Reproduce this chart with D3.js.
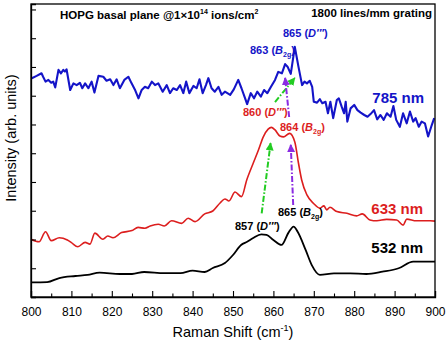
<!DOCTYPE html>
<html><head><meta charset="utf-8">
<script src="https://cdn.jsdelivr.net/npm/d3@7"></script>
<style>
html,body{margin:0;padding:0;background:#fff;}
svg{display:block;font-family:"Liberation Sans",Arial,sans-serif;}
</style></head>
<body><svg id="chart" width="447" height="343"></svg>
<script>
// Raman shift (cm^-1) / intensity (arb. units)
const shift532 = [800,804,807,811,814,817,822,825,828,833,837,840,843,845,848,850,852,853.5,855,857,858.3,860,862,863.7,865,866,868,869.5,871.5,875,879,883,887,891,894.6,900];
const int532   = [0.51,0.52,0.66,0.73,0.77,0.85,0.80,0.80,0.87,0.83,0.83,0.92,0.87,1.01,1.18,1.46,1.81,1.92,2.05,2.18,2.16,1.98,1.81,2.23,2.45,2.27,1.63,1.11,0.77,0.82,0.82,0.80,0.88,1.00,1.23,1.23];

const shift633 = [800,802,803.6,805,807,809,810,811.6,813.4,814.6,815.8,817.8,819,820.3,822.4,825,826.5,828.2,829.5,831.5,833,834.8,837.3,838.9,840.6,843,845,846.8,848,849,850.5,852.1,853.4,855,856.3,857.5,858.7,859.5,860.4,861.6,862.5,864,865.3,866.2,867,868.3,869.9,871.5,872.5,873.2,874,875.7,878.2,880.6,882,883.9,885.6,888,890.5,892.1,893,895.4,898.8,900];
const int633   = [2.01,1.92,2.27,1.96,2.06,1.98,1.89,1.75,1.90,1.84,2.22,2.01,2.12,2.06,2.24,2.31,2.42,2.39,2.47,2.53,2.47,2.65,2.56,2.74,2.62,2.89,2.99,3.27,3.41,3.34,3.65,3.49,4.07,4.65,5.11,5.57,5.84,5.90,5.81,5.60,5.57,5.69,5.39,4.66,4.07,3.55,3.26,3.09,3.17,3.03,3.12,2.97,2.91,2.82,2.89,2.68,2.65,2.70,2.68,2.50,2.71,2.65,2.65,2.64];

const shift785 = [800.2,801.4,802.6,803,803.6,804.3,805,805.5,806,806.8,807.4,808,808.4,808.8,809.7,810.5,811.3,812.1,812.7,813.4,814.2,815,815.7,816.7,817.9,818.7,819.6,820.4,821.2,822,823.1,824.1,824.9,825.7,826.6,827.4,828.2,829,829.9,830.7,831.5,832.6,833.6,834.4,835.2,836.1,836.9,837.7,838.4,839.2,840.2,841,841.7,842.5,843.3,843.9,844.7,845.5,846.4,847.2,848,849.3,850.2,851.3,852.1,853,853.5,854.4,855.2,856,856.9,857.7,858.5,859.4,860.4,861.2,862.1,862.9,863.5,864.3,865.3,866.2,867.1,867.7,868.3,869,869.6,870,870.8,871.5,872.1,872.9,873.5,874.1,874.8,875.7,876.2,876.9,877.5,877.9,878.3,879.1,880,880.8,881.6,882.5,883.3,884.1,884.9,885.7,886.5,887.3,888.1,889,889.7,890.4,891.3,892.1,893,893.8,894.6,895.2,896,896.7,897.5,898.3,899.2,899.8];
const int785   = [7.61,7.69,7.78,7.66,7.49,7.55,7.45,7.49,7.29,7.90,7.78,7.90,7.84,7.92,7.20,7.43,7.37,7.45,7.26,7.43,7.26,7.49,7.11,7.69,7.66,7.52,7.57,7.37,7.57,7.26,7.55,7.66,7.43,7.22,6.91,7.20,7.31,7.26,7.49,7.37,7.43,7.14,7.37,7.09,7.26,7.20,7.37,7.09,7.49,7.09,7.34,7.26,7.57,7.09,7.37,7.61,7.26,7.14,7.31,7.03,7.14,7.03,7.22,7.55,7.26,6.91,6.71,7.09,6.91,7.14,6.97,7.20,7.09,7.31,7.55,7.83,7.78,8.10,8.01,7.76,8.70,8.01,7.37,7.49,7.43,7.52,7.31,6.79,6.76,6.88,6.74,6.79,6.39,6.79,6.22,6.85,6.91,6.62,6.39,6.79,6.10,6.56,6.68,6.50,6.41,6.33,6.27,6.37,6.50,6.18,6.33,6.16,6.39,6.27,6.64,6.16,5.92,6.39,6.04,6.45,6.10,6.22,5.92,6.10,6.04,5.58,5.98,6.22];

const xTicks = [800,810,820,830,840,850,860,870,880,890,900];
const xMinorTicks = [805,815,825,835,845,855,865,875,885,895];
const yTicks = [1,2,3,4,5,6,7,8,9,10];

const seriesColors = {b:"#1414c8", r:"#dc1e1e", k:"#000000", g:"#22cc22", p:"#8a2be2"};

const W=447,H=343, m={l:31,t:4,r:12,b:46};
const svg=d3.select("#chart");
const x=d3.scaleLinear().domain([800,900]).range([m.l,W-m.r]);
const y=d3.scaleLinear().domain([0,10.19]).range([H-m.b,m.t]);

function draw(xs,ys,col,w,curve){
  const pts=xs.map((d,i)=>[d,ys[i]]);
  svg.append("path").datum(pts).attr("fill","none").attr("stroke",col).attr("stroke-width",w)
    .attr("stroke-linejoin","round")
    .attr("d",d3.line().x(d=>x(d[0])).y(d=>y(d[1])).curve(curve));
}
draw(shift532,int532,seriesColors.k,1.8,d3.curveMonotoneX);
draw(shift633,int633,seriesColors.r,1.6,d3.curveMonotoneX);
draw(shift785,int785,seriesColors.b,2.1,d3.curveLinear);

// frame
svg.append("rect").attr("x",m.l).attr("y",m.t).attr("width",W-m.l-m.r).attr("height",H-m.t-m.b)
  .attr("fill","none").attr("stroke","#000").attr("stroke-width",1.3);

// axes (inward ticks)
const gx=svg.append("g").attr("transform",`translate(0,${H-m.b})`)
  .call(d3.axisBottom(x).tickValues(xTicks).tickSize(-6).tickPadding(10).tickFormat(d3.format("d")));
svg.append("g").attr("transform",`translate(0,${H-m.b})`)
  .call(d3.axisBottom(x).tickValues(xMinorTicks).tickSize(-3.5).tickFormat(""))
  .call(g=>g.select(".domain").remove());
svg.append("g").attr("transform",`translate(${m.l},0)`)
  .call(d3.axisLeft(y).tickValues(yTicks).tickSize(-5).tickFormat(""));
svg.selectAll(".domain").attr("stroke","#000").attr("stroke-width",1.3);
svg.selectAll(".tick line").attr("stroke","#000").attr("stroke-width",1.1);
gx.selectAll("text").attr("font-size",12).attr("fill","#000").attr("font-family","Liberation Sans,Arial,sans-serif");

function label(px,py,parts,col,size,weight,anchor){
  const t=svg.append("text").attr("x",px).attr("y",py).attr("fill",col).attr("font-size",size)
    .attr("font-weight",weight||"bold").attr("text-anchor",anchor||"start");
  parts.forEach(p=>{
    const s=t.append("tspan").text(p.t);
    if(p.i) s.attr("font-style","italic");
    if(p.dy) s.attr("dy",p.dy);
    if(p.fs) s.attr("font-size",p.fs);
  });
  return t;
}

// axis titles
label((m.l+W-m.r)/2,337,[{t:"Raman Shift (cm"},{t:"-1",fs:9,dy:-6},{t:")",dy:6}],"#000",14.5,"normal","middle");
svg.append("text").attr("transform","translate(16,138) rotate(-90)").attr("text-anchor","middle").attr("font-size",14.5)
  .text("Intensity (arb. units)");

const B2g=[{t:"B",i:1},{t:"2g",fs:7,dy:3},{t:")",dy:-3}];
label(60,19,[{t:"HOPG basal plane @1×10"},{t:"14",fs:7,dy:-5},{t:" ions/cm",dy:5},{t:"2",fs:7,dy:-5}],"#000",11.5);
label(432,17,[{t:"1800 lines/mm grating"}],"#000",11.5,"bold","end");

label(283,37,[{t:"865 ("},{t:"D′′′",i:1},{t:")"}],seriesColors.b,11);
label(250,54,[{t:"863 ("}].concat(B2g),seriesColors.b,11);
label(424,103,[{t:"785 nm"}],seriesColors.b,15,"bold","end");

label(243,116,[{t:"860 ("},{t:"D′′′",i:1},{t:")"}],seriesColors.r,11);
label(280,131,[{t:"864 ("}].concat(B2g),seriesColors.r,11);
label(423,214,[{t:"633 nm"}],seriesColors.r,15,"bold","end");

label(235,230,[{t:"857 ("},{t:"D′′′",i:1},{t:")"}],"#000",11);
label(278,216,[{t:"865 ("}].concat(B2g),"#000",11);
label(423,253,[{t:"532 nm"}],"#000",15,"bold","end");

// arrows (data coords)
const arrows=[
  {x0:857.1,y0:2.91,x1:859.3,y1:5.35,c:seriesColors.g},
  {x0:864.9,y0:3.20,x1:864.3,y1:5.29,c:seriesColors.p},
  {x0:860.4,y0:6.78,x1:865.3,y1:7.62,c:seriesColors.g},
  {x0:863.9,y0:6.26,x1:862.9,y1:7.62,c:seriesColors.p}
];
const defs=svg.append("defs");
arrows.forEach((a,i)=>{
  defs.append("marker").attr("id","ah"+i).attr("viewBox","0 0 10 10").attr("refX",9).attr("refY",5)
    .attr("markerWidth",4).attr("markerHeight",4).attr("orient","auto")
    .append("path").attr("d","M0,0L10,5L0,10z").attr("fill",a.c);
  svg.append("line").attr("x1",x(a.x0)).attr("y1",y(a.y0)).attr("x2",x(a.x1)).attr("y2",y(a.y1))
    .attr("stroke",a.c).attr("stroke-width",2).attr("stroke-dasharray","6,2,1.5,2")
    .attr("marker-end",`url(#ah${i})`);
});
</script></body></html>
